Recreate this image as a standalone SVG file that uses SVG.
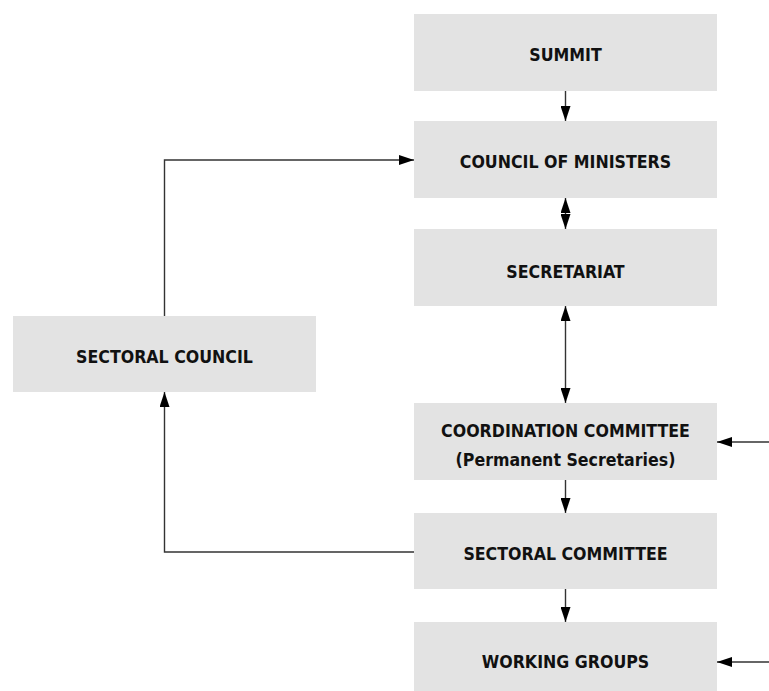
<svg xmlns="http://www.w3.org/2000/svg" width="769" height="691" viewBox="0 0 769 691">
<style>
.box{fill:#e3e3e3}
.lbl{font-family:"DejaVu Sans Condensed","Liberation Sans",Arial,sans-serif;font-stretch:condensed;font-weight:bold;font-size:17.6px;fill:#111;text-anchor:middle}
.con{stroke:#333;stroke-width:1.4;fill:none}
</style>
<defs>
<marker id="ah" viewBox="0 0 15 10" markerWidth="15" markerHeight="10" refX="15" refY="5" orient="auto-start-reverse" markerUnits="userSpaceOnUse">
<path d="M0,0 L15,5 L0,10 z" fill="#000"/>
</marker>
</defs>
<rect width="769" height="691" fill="#fff"/>
<g id="summit"><rect class="box" x="414" y="14" width="303" height="77"/><text class="lbl" x="565.5" y="61">SUMMIT</text></g>
<g id="council-of-ministers"><rect class="box" x="414" y="121" width="303" height="77"/><text class="lbl" x="565.5" y="168">COUNCIL OF MINISTERS</text></g>
<g id="secretariat"><rect class="box" x="414" y="229" width="303" height="77"/><text class="lbl" x="565.5" y="278">SECRETARIAT</text></g>
<g id="coordination-committee"><rect class="box" x="414" y="403" width="303" height="77"/><text class="lbl" x="565.5" y="437">COORDINATION COMMITTEE</text><text class="lbl" x="565.5" y="466">(Permanent Secretaries)</text></g>
<g id="sectoral-committee"><rect class="box" x="414" y="513" width="303" height="76"/><text class="lbl" x="565.5" y="560">SECTORAL COMMITTEE</text></g>
<g id="working-groups"><rect class="box" x="414" y="622" width="303" height="69"/><text class="lbl" x="565.5" y="668">WORKING GROUPS</text></g>
<g id="sectoral-council"><rect class="box" x="13" y="316" width="303" height="76"/><text class="lbl" x="164.5" y="363">SECTORAL COUNCIL</text></g>
<g id="connectors">
<line class="con" x1="565.5" y1="91" x2="565.5" y2="121" marker-end="url(#ah)"/>
<line class="con" x1="565.5" y1="198" x2="565.5" y2="229" marker-start="url(#ah)" marker-end="url(#ah)"/>
<line class="con" x1="565.5" y1="306" x2="565.5" y2="403" marker-start="url(#ah)" marker-end="url(#ah)"/>
<line class="con" x1="565.5" y1="480" x2="565.5" y2="513" marker-end="url(#ah)"/>
<line class="con" x1="565.5" y1="589" x2="565.5" y2="622" marker-end="url(#ah)"/>
<line class="con" x1="769" y1="442" x2="717" y2="442" marker-end="url(#ah)"/>
<line class="con" x1="769" y1="662" x2="717" y2="662" marker-end="url(#ah)"/>
<polyline class="con" points="164.5,316 164.5,160 414,160" marker-end="url(#ah)"/>
<polyline class="con" points="414,552 164.5,552 164.5,392" marker-end="url(#ah)"/>
</g>
</svg>
